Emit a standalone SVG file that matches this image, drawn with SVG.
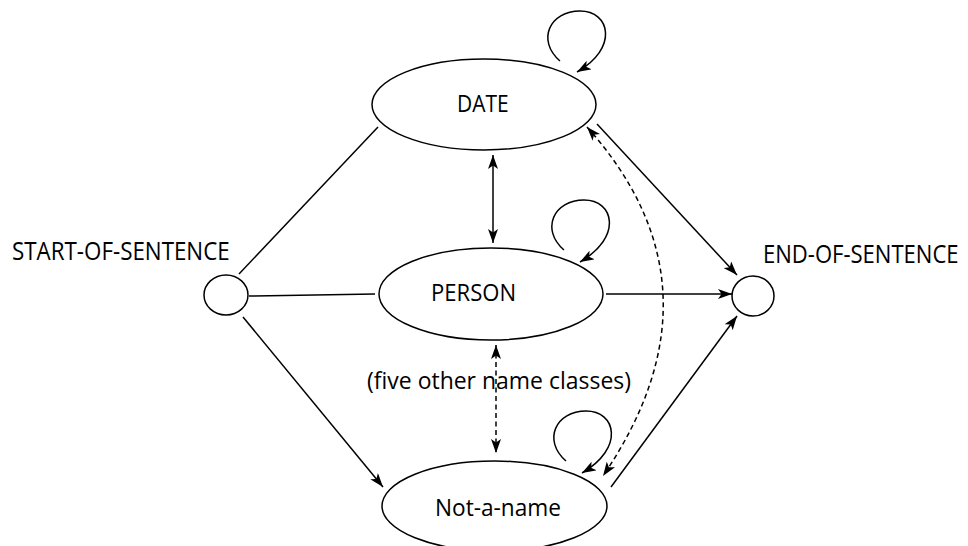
<svg xmlns="http://www.w3.org/2000/svg" width="968" height="546" viewBox="0 0 968 546">
  <style>
    .node { fill: #fff; stroke: #000; stroke-width: 1.5; }
    .edge { fill: none; stroke: #000; stroke-width: 1.5; }
    .dash { stroke-dasharray: 5 3.5; }
    .lbl { font-family: "Open Sans", "Noto Sans", "Liberation Sans", sans-serif; fill: #000; }
    .big { font-size: 25px; }
    .mid { font-size: 23px; }
  </style>
  <defs>
    <marker id="arrow" viewBox="0 0 14 10" refX="14" refY="5" markerWidth="14" markerHeight="10" markerUnits="userSpaceOnUse" orient="auto-start-reverse">
      <path d="M0,0 L14,5 L0,10 L3.5,5 z" fill="#000"/>
    </marker>
  </defs>
  <rect width="968" height="546" fill="#fff"/>

  <!-- connectors -->
  <g id="connectors">
    <line class="edge" x1="239" y1="274" x2="378" y2="127"/>
    <line class="edge" x1="249" y1="296" x2="375" y2="294"/>
    <line class="edge" x1="243" y1="317" x2="383" y2="487" marker-end="url(#arrow)"/>
    <line class="edge" x1="597" y1="124" x2="737" y2="275" marker-end="url(#arrow)"/>
    <line class="edge" x1="606" y1="294" x2="732" y2="294" marker-end="url(#arrow)"/>
    <line class="edge" x1="611" y1="487" x2="737" y2="316" marker-end="url(#arrow)"/>
    <line class="edge" x1="493" y1="155" x2="493" y2="243" marker-start="url(#arrow)" marker-end="url(#arrow)"/>
    <line class="edge dash" x1="496" y1="345" x2="496" y2="453" marker-start="url(#arrow)" marker-end="url(#arrow)"/>
    <path class="edge dash" d="M587,127 Q731,288 603,476" marker-start="url(#arrow)" marker-end="url(#arrow)"/>
    <!-- self transitions -->
    <path class="edge" d="M560,61 C536,40 550,11 580,11 C610,11 619,48 577,72" marker-end="url(#arrow)"/>
    <path class="edge" d="M564,250 C540,229 554,200 584,200 C614,200 623,237 580,262" marker-end="url(#arrow)"/>
    <path class="edge" d="M566,461 C542,440 556,411 586,411 C616,411 625,448 582,473" marker-end="url(#arrow)"/>
  </g>

  <g id="start">
    <ellipse class="node" cx="226" cy="295" rx="22" ry="20"/>
    <text class="lbl big" transform="translate(12,260) scale(0.885,1)" textLength="246" lengthAdjust="spacingAndGlyphs">START-OF-SENTENCE</text>
  </g>
  <g id="end">
    <ellipse class="node" cx="753" cy="296" rx="21" ry="20"/>
    <text class="lbl big" transform="translate(763,263) scale(0.885,1)" textLength="221" lengthAdjust="spacingAndGlyphs">END-OF-SENTENCE</text>
  </g>
  <g id="date">
    <ellipse class="node" cx="484" cy="104.5" rx="112" ry="45.5"/>
    <text class="lbl mid" x="457" y="112" textLength="51.6" lengthAdjust="spacingAndGlyphs">DATE</text>
  </g>
  <g id="person">
    <ellipse class="node" cx="491" cy="294" rx="112" ry="46"/>
    <text class="lbl mid" x="431" y="301" textLength="85" lengthAdjust="spacingAndGlyphs">PERSON</text>
  </g>
  <g id="other">
    <text class="lbl mid" x="367" y="389" textLength="264" lengthAdjust="spacingAndGlyphs">(five other name classes)</text>
  </g>
  <g id="not-a-name">
    <ellipse class="node" cx="494.5" cy="506" rx="112.5" ry="45"/>
    <text class="lbl mid" x="435" y="516" textLength="126" lengthAdjust="spacingAndGlyphs">Not-a-name</text>
  </g>
</svg>
